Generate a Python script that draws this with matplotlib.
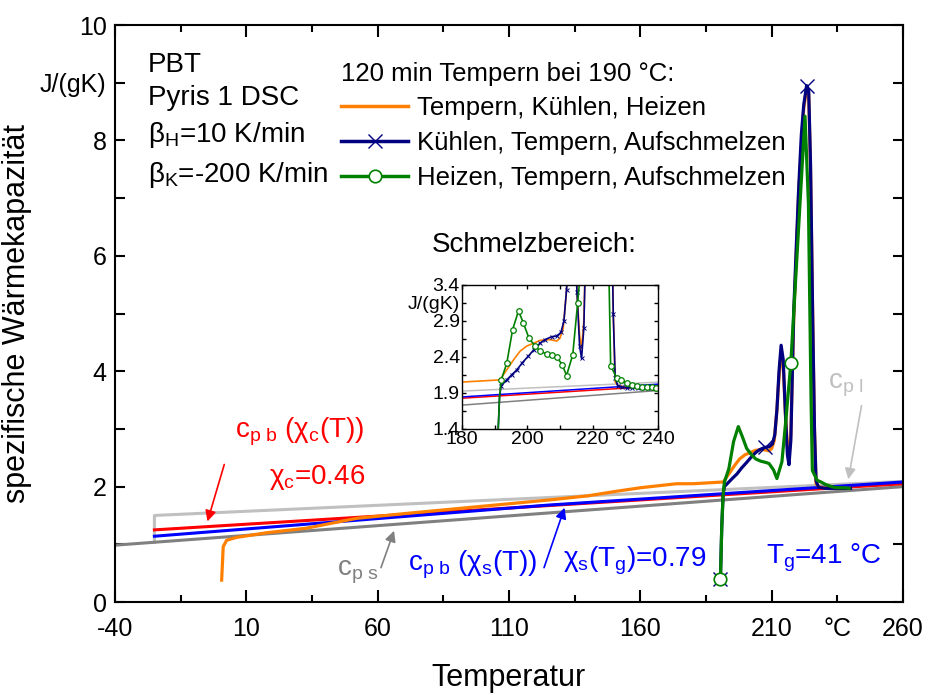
import numpy as np
import matplotlib
matplotlib.use("Agg")
import matplotlib.pyplot as plt
from matplotlib.lines import Line2D

plt.rcParams['font.family'] = ['Liberation Sans', 'DejaVu Sans']
plt.rcParams['mathtext.fontset'] = 'custom'
plt.rcParams['mathtext.rm'] = 'Liberation Sans'
plt.rcParams['mathtext.it'] = 'Liberation Sans:italic'

# baselines: solid, liquid and the two rigid-amorphous corrected ones
T_s = [-40, 260]
cp_s = [0.985, 2.0]
T_l = [-25, -25, 260]
cp_l = [1.036, 1.50, 2.09]
T_red = [-25, 260]
cp_red = [1.25, 2.05]
T_blue = [-25, 125, 260]
cp_blue = [1.14, 1.68, 2.08]

# Tempern, Kuehlen, Heizen
orange_T = [0.6, 1.2, 2.5, 6.3, 17.7, 33.0, 41.8, 52.0, 72.0, 100.0, 125.6, 140.0, 151.0, 160.0,
            173.8, 180.0, 191.6, 193.7, 195.8, 197.8, 199.8, 201.9, 203.9, 206.9, 209.0, 210.0,
            211.0, 212.0, 212.8, 213.6, 214.4, 215.2, 216.0, 216.6, 217.3, 218.4, 220.3, 222.2,
            223.3, 224.1, 224.8, 225.6, 226.3, 226.9, 227.8, 230.0, 235.0, 240.0]
orange_cp = [0.38, 0.96, 1.07, 1.12, 1.20, 1.28, 1.36, 1.45, 1.54, 1.66, 1.77, 1.84, 1.92, 1.98,
             2.05, 2.05, 2.08, 2.22, 2.36, 2.48, 2.55, 2.59, 2.63, 2.64, 2.62, 2.66,
             2.80, 3.33, 3.90, 4.30, 4.10, 3.30, 2.70, 2.52, 2.90, 4.90, 7.10, 8.55,
             8.90, 8.80, 7.50, 5.00, 3.00, 2.05, 2.00, 1.98, 1.97, 1.97]

# Kuehlen, Tempern, Aufschmelzen
navy_T = [190.5, 191.0, 191.5, 192.0, 193.7, 195.2, 196.8, 198.5, 200.3, 202.0, 203.9, 205.4,
          207.4, 209.0, 210.3, 211.2, 212.0, 212.8, 213.6, 214.4, 215.2, 216.0, 216.6, 217.3,
          218.4, 219.5, 220.3, 221.3, 222.2, 223.3, 224.1, 224.8, 225.6, 226.3, 226.9, 227.8,
          229.0, 230.4, 232.0, 234.0, 236.0, 238.0, 240.0]
navy_cp = [0.40, 1.30, 1.85, 2.00, 2.08, 2.15, 2.22, 2.32, 2.41, 2.50, 2.59, 2.64,
           2.68, 2.69, 2.74, 2.90, 3.33, 4.00, 4.45, 4.20, 3.30, 2.55, 2.38, 2.80,
           5.03, 6.30, 7.19, 8.10, 8.61, 8.95, 8.86, 7.60, 5.00, 3.00, 2.10, 1.99,
           1.98, 1.97, 1.97, 1.97, 1.97, 1.97, 1.97]

# Heizen, Tempern, Aufschmelzen
green_T = [190.5, 191.0, 191.5, 192.0, 193.7, 195.5, 197.3, 198.8, 200.5, 202.4, 203.9, 205.9,
           207.7, 209.0, 210.7, 212.0, 213.9, 215.4, 217.3, 222.7, 224.0, 225.0, 225.5, 227.3,
           228.8, 230.4, 232.1, 233.6, 235.2, 236.7, 238.2, 239.5]
green_cp = [0.40, 1.30, 1.85, 2.08, 2.31, 2.78, 3.04, 2.87, 2.66, 2.55, 2.48, 2.44,
            2.42, 2.40, 2.29, 2.14, 2.43, 3.15, 4.14, 8.42, 6.90, 3.50, 2.28, 2.11,
            2.08, 2.04, 2.01, 1.99, 1.98, 1.98, 1.98, 1.97]

navy_mark = [0, 12, 29]
green_mark = [0, 18]

c_or, c_navy, c_gr = '#FF8000', '#000080', '#008000'
c_red, c_blue, c_dg, c_lg = '#FF0000', '#0000FF', '#808080', '#C0C0C0'

fig = plt.figure(figsize=(9.29, 6.95), dpi=100)
ax = fig.add_axes([0.1238, 0.1338, 0.8482, 0.8302])

ax.plot(T_l, cp_l, color=c_lg, lw=2.2)
ax.plot(T_s, cp_s, color=c_dg, lw=2.2)
ax.plot(T_red, cp_red, color=c_red, lw=2.2)
ax.plot(T_blue, cp_blue, color=c_blue, lw=2.2)
ax.plot(orange_T, orange_cp, color=c_or, lw=2.3)
ax.plot(navy_T, navy_cp, color=c_navy, lw=2.3)
ax.plot(green_T, green_cp, color=c_gr, lw=2.3)
ax.plot(np.array(navy_T)[navy_mark], np.array(navy_cp)[navy_mark], 'x', color=c_navy, ms=10, mew=1)
ax.plot(np.array(green_T)[green_mark], np.array(green_cp)[green_mark], 'o', mfc='white',
        mec=c_gr, ms=9, mew=1.2)

ax.set_xlim(-40, 260)
ax.set_ylim(0, 10)
major_x = np.arange(-40, 261, 50)
minor_x = np.arange(-15, 260, 50)
ax.set_xticks(major_x)
ax.set_xticklabels([str(t) for t in major_x])
ax.set_xticks(minor_x, minor=True)
ax.set_xticklabels(['°C' if t == 235 else '' for t in minor_x], minor=True)
ax.set_yticks(np.arange(0, 11, 1))
ax.set_yticklabels(['0', '', '2', '', '4', '', '6', '', '8', 'J/(gK)', '10'])
ax.tick_params(axis='x', which='major', direction='in', length=8.5, width=1.5, top=True,
               labelsize=18, pad=11)
ax.tick_params(axis='x', which='minor', direction='in', length=5, width=1.5, top=True,
               labelsize=18, pad=11)
ax.tick_params(axis='y', direction='in', length=7, width=1.5, right=True, labelsize=18, pad=6)
for sp in ax.spines.values():
    sp.set_linewidth(1.5)
ax.set_xlabel('Temperatur', fontsize=22)
ax.set_ylabel('spezifische Wärmekapazität', fontsize=22)
ax.xaxis.set_label_coords(0.5, -0.105)
ax.yaxis.set_label_coords(-0.105, 0.5)

# sample info
info = ['PBT', 'Pyris 1 DSC', 'β$_\\mathrm{H}$=10 K/min', 'β$_\\mathrm{K}$=-200 K/min']
for s, y in zip(info, [0.931, 0.874, 0.810, 0.740]):
    ax.text(0.042, y, s, transform=ax.transAxes, fontsize=20, va='center')

handles = [Line2D([], [], color=c_or, lw=2.5),
           Line2D([], [], color=c_navy, lw=2.5, marker='x', ms=10, mew=1),
           Line2D([], [], color=c_gr, lw=2.5, marker='o', mfc='white', ms=9, mew=1.2)]
labels = ['Tempern, Kühlen, Heizen', 'Kühlen, Tempern, Aufschmelzen', 'Heizen, Tempern, Aufschmelzen']
leg = ax.legend(handles, labels, title='120 min Tempern bei 190 °C:', loc='upper left',
                bbox_to_anchor=(0.287, 0.936), frameon=False, fontsize=18.5, title_fontsize=18.5,
                alignment='left', handlelength=2.6, handletextpad=0.35, labelspacing=0.41,
                borderaxespad=0, borderpad=0)

# annotations
ax.text(30.4, 2.95, 'c$_\\mathrm{p\\ b}$ (χ$_\\mathrm{c}$(T))', color=c_red, fontsize=20,
        ha='center', va='center')
ax.text(36.9, 2.15, 'χ$_\\mathrm{c}$=0.46', color=c_red, fontsize=20, ha='center', va='center')
ax.annotate('', xy=(-5.1, 1.35), xytext=(1.9, 2.43),
            arrowprops=dict(arrowstyle='-|>', color=c_red, lw=1.2, mutation_scale=16))
ax.text(44.5, 0.52, 'c$_\\mathrm{p\\ s}$', color=c_dg, fontsize=20, va='center')
ax.annotate('', xy=(66.6, 1.28), xytext=(60.9, 0.55),
            arrowprops=dict(arrowstyle='-|>', color=c_dg, lw=1.2, mutation_scale=16))
ax.text(71.5, 0.64, 'c$_\\mathrm{p\\ b}$ (χ$_\\mathrm{s}$(T))', color=c_blue, fontsize=20, va='center')
ax.annotate('', xy=(131.5, 1.68), xytext=(123.0, 0.55),
            arrowprops=dict(arrowstyle='-|>', color=c_blue, lw=1.2, mutation_scale=16))
ax.text(130.5, 0.72, 'χ$_\\mathrm{s}$(T$_\\mathrm{g}$)=0.79', color=c_blue, fontsize=20, va='center')
ax.text(208, 0.76, 'T$_\\mathrm{g}$=41 °C', color=c_blue, fontsize=20, va='center')
ax.text(231.4, 3.76, 'c$_\\mathrm{p\\ l}$', color=c_lg, fontsize=20, va='center')
ax.annotate('', xy=(239, 2.08), xytext=(244.4, 3.45),
            arrowprops=dict(arrowstyle='-|>', color=c_lg, lw=1.2, mutation_scale=16))

# inset: melting range
ax2 = fig.add_axes([0.4973, 0.383, 0.211, 0.207])
ax2.plot(T_l, cp_l, color=c_lg, lw=1.1)
ax2.plot(T_s, cp_s, color=c_dg, lw=1.1)
ax2.plot(T_red, cp_red, color=c_red, lw=1.1)
ax2.plot(T_blue, cp_blue, color=c_blue, lw=1.1)
ax2.plot(orange_T, orange_cp, color=c_or, lw=1.2)
ax2.plot(navy_T, navy_cp, color=c_navy, lw=1.2, marker='x', ms=3, mew=0.7,
         markevery=list(range(3, len(navy_T))))
ax2.plot(green_T, green_cp, color=c_gr, lw=1.2, marker='o', mfc='white', ms=4, mew=0.9,
         markevery=list(range(3, len(green_T))))
ax2.set_xlim(180, 240)
ax2.set_ylim(1.4, 3.4)
ax2.set_xticks(np.arange(180, 241, 10))
ax2.set_xticklabels(['180', '', '200', '', '220', '°C', '240'])
ax2.set_yticks(np.arange(1.4, 3.41, 0.25))
ax2.set_yticklabels(['1.4', '', '1.9', '', '2.4', '', '2.9', 'J/(gK)', '3.4'])
ax2.tick_params(direction='in', length=3, width=1, top=True, right=True, labelsize=14, pad=1.5)
for sp in ax2.spines.values():
    sp.set_linewidth(1)
fig.text(0.465, 0.647, 'Schmelzbereich:', fontsize=20, va='center')

fig.savefig('out.png', dpi=100)
